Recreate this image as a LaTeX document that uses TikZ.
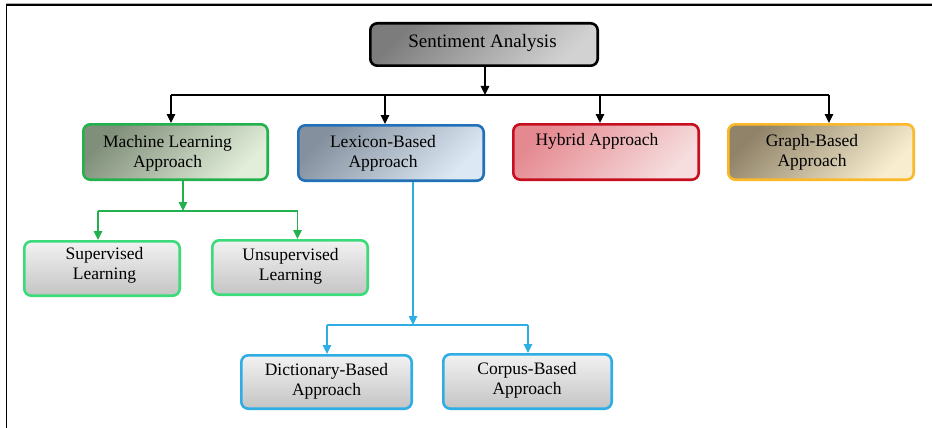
\documentclass[tikz,border=0pt]{standalone}
\usepackage{fontspec}
\setmainfont{Liberation Serif}
\usetikzlibrary{arrows.meta,calc}
\definecolor{titleA}{HTML}{7C7C7C}
\definecolor{titleB}{HTML}{D2D2D2}
\definecolor{mlA}{HTML}{808F7A}
\definecolor{mlB}{HTML}{E2EEDA}
\definecolor{mlBorder}{HTML}{22B14C}
\definecolor{lexA}{HTML}{84909D}
\definecolor{lexB}{HTML}{DCE9F5}
\definecolor{lexBorder}{HTML}{2271B8}
\definecolor{hyA}{HTML}{E58990}
\definecolor{hyB}{HTML}{F6DDDE}
\definecolor{hyBorder}{HTML}{C50F1F}
\definecolor{grA}{HTML}{908369}
\definecolor{grB}{HTML}{F8EECF}
\definecolor{grBorder}{HTML}{FBB92A}
\definecolor{subGreen}{HTML}{3CDB7A}
\definecolor{subBlue}{HTML}{2FAEE6}
\definecolor{lineGreen}{HTML}{22B14C}
\definecolor{lineBlue}{HTML}{2FAEE6}
\definecolor{leafTop}{HTML}{F2F2F2}
\definecolor{leafBot}{HTML}{C4C4C4}
\begin{document}
\begin{tikzpicture}[x=1pt,y=-1pt,
  box/.style={rounded corners=7pt, line width=2.6pt, inner sep=0pt, shading angle=45},
  topbox/.style={box, draw=black, top color=titleA, bottom color=titleB, shading angle=45},
  leafbox/.style={box, top color=leafTop, bottom color=leafBot, shading angle=0},
  lbl/.style={anchor=north, align=center, inner sep=0pt, font=\fontsize{17.5}{20}\selectfont},
  conn/.style={line width=1.2pt, -{Triangle[length=9pt,width=8.5pt]}},
  bus/.style={line width=1.2pt}
]
\useasboundingbox (0,0) rectangle (932,428);

% page frame
\draw[gray!60, line width=1pt] (6,3.8) -- (932,3.8);
\draw[black, line width=1.6pt] (6.3,5.3) -- (932,5.3);
\draw[black, line width=1.6pt] (6.3,5.3) -- (6.3,428);

% top level
\node[topbox, minimum width=227.4pt, minimum height=42.4pt] (sa) at (484,44.5) {};
\node[lbl, font=\fontsize{19}{22}\selectfont] (saT) at (482.5,34.5) {Sentiment Analysis};

% approaches
\node[box, draw=mlBorder, top color=mlA, bottom color=mlB, shading angle=45,
      minimum width=184.4pt, minimum height=55.4pt] (ml) at (175.5,152) {};
\node[lbl] (mlT) at (167.5,135) {Machine Learning\\Approach};

\node[box, draw=lexBorder, top color=lexA, bottom color=lexB, shading angle=45,
      minimum width=185.4pt, minimum height=55.4pt] (lex) at (391,153) {};
\node[lbl] (lexT) at (383,135) {Lexicon-Based\\Approach};

\node[box, draw=hyBorder, top color=hyA, bottom color=hyB, shading angle=45,
      minimum width=185.4pt, minimum height=55.4pt] (hy) at (606,152) {};
\node[lbl] (hyT) at (597,133) {Hybrid Approach};

\node[box, draw=grBorder, top color=grA, bottom color=grB, shading angle=45,
      minimum width=185.4pt, minimum height=55.4pt] (gr) at (821,152) {};
\node[lbl] (grT) at (812,134) {Graph-Based\\Approach};

% machine learning children
\node[leafbox, draw=subGreen, minimum width=155.4pt, minimum height=54.4pt] (sup) at (102,268.5) {};
\node[lbl] (supT) at (104.5,247.5) {Supervised\\Learning};
\node[leafbox, draw=subGreen, minimum width=155.4pt, minimum height=54.4pt] (uns) at (290,267.5) {};
\node[lbl] (unsT) at (290.5,248) {Unsupervised\\Learning};

% lexicon children
\node[leafbox, draw=subBlue, minimum width=170.4pt, minimum height=53.4pt] (dic) at (326.5,382) {};
\node[lbl] (dicT) at (326.5,363) {Dictionary-Based\\Approach};
\node[leafbox, draw=subBlue, minimum width=168.4pt, minimum height=54.4pt] (cor) at (527.5,381.5) {};
\node[lbl] (corT) at (527,362) {Corpus-Based\\Approach};

% main connectors
\coordinate (b0) at (485,95);
\coordinate (b1) at (171,95);
\coordinate (b2) at (385,95);
\coordinate (b3) at (600,95);
\coordinate (b4) at (829,95);
\draw[conn] (sa.south -| b0) -- (b0);
\draw[bus] (b1) -- (b4);
\draw[conn] (b1) -- (ml.north -| b1);
\draw[conn] (b2) -- (lex.north -| b2);
\draw[conn] (b3) -- (hy.north -| b3);
\draw[conn] (b4) -- (gr.north -| b4);

% machine learning connectors
\coordinate (g0) at (183,211);
\coordinate (g1) at (98,211);
\coordinate (g2) at (297.5,211);
\draw[conn, lineGreen] (ml.south -| g0) -- (g0);
\draw[bus, lineGreen] (g1) -- (g2);
\draw[conn, lineGreen] (g1) -- (sup.north -| g1);
\draw[conn, lineGreen] (g2) -- (uns.north -| g2);

% lexicon connectors
\coordinate (c0) at (413,325);
\coordinate (c1) at (327,325);
\coordinate (c2) at (528,325);
\draw[conn, lineBlue] (lex.south -| c0) -- (c0);
\draw[bus, lineBlue] (c1) -- (c2);
\draw[conn, lineBlue] (c1) -- (dic.north -| c1);
\draw[conn, lineBlue] (c2) -- (cor.north -| c2);
\end{tikzpicture}
\end{document}
